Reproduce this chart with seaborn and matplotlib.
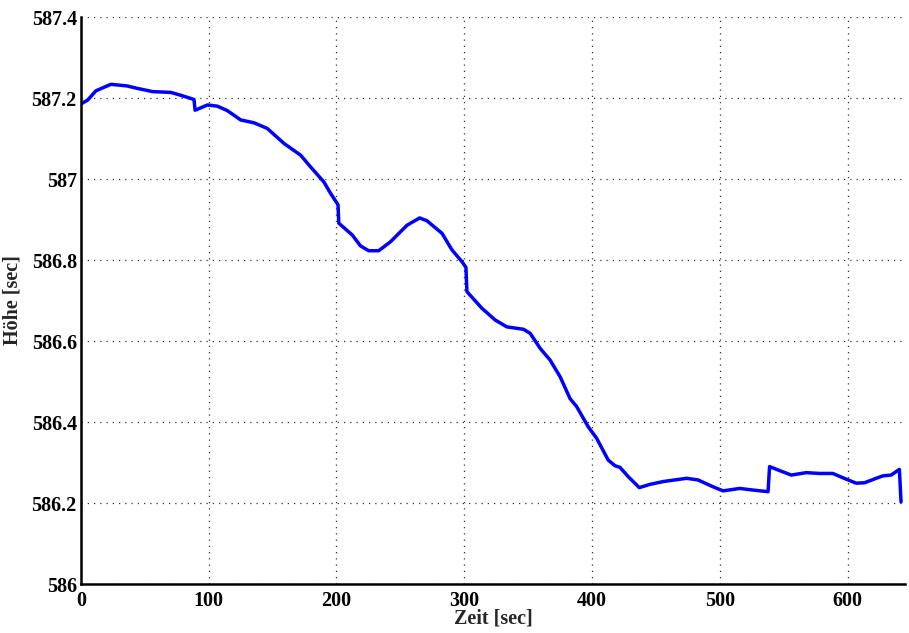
import matplotlib
matplotlib.use("Agg")
import matplotlib.pyplot as plt
import matplotlib.ticker as mticker
import seaborn as sns
import pandas as pd

# time [sec] and height values
zeit = [0, 1.3, 5.2, 11.7, 23.4, 36, 44, 56, 70.3, 78,
        87, 88.5, 89.3, 99, 106.8, 114.6, 125, 135.4, 145.8, 158.9,
        171.9, 179.7, 190.1, 195.3, 200.5, 201.2, 201.8, 212.3, 218.8, 225.2,
        233, 242.2, 255.2, 265.1, 270.8, 282.6, 290.4, 298.2, 301.3, 302.1,
        313.8, 324.2, 333.3, 346.4, 351.6, 359.4, 367.2, 375, 382.8, 388,
        397.1, 403.6, 412.7, 418, 421.9, 428.4, 437, 445.3, 455.7, 474,
        483, 494.8, 502.6, 515.6, 526, 537.8, 539, 546.9, 556, 567.7,
        578.1, 588.5, 598.9, 606.8, 613.3, 622.4, 627.6, 634.1, 640.6, 641.9]
hoehe = [587.185, 587.188, 587.195, 587.218, 587.234, 587.230, 587.224, 587.216, 587.214, 587.207,
         587.198, 587.196, 587.170, 587.183, 587.180, 587.169, 587.146, 587.139, 587.125, 587.088,
         587.059, 587.030, 586.993, 586.965, 586.940, 586.936, 586.891, 586.862, 586.835, 586.823,
         586.823, 586.845, 586.886, 586.904, 586.897, 586.866, 586.825, 586.796, 586.782, 586.722,
         586.681, 586.652, 586.635, 586.629, 586.619, 586.582, 586.553, 586.512, 586.458, 586.438,
         586.388, 586.360, 586.306, 586.292, 586.288, 586.265, 586.238, 586.246, 586.253, 586.261,
         586.257, 586.240, 586.230, 586.236, 586.232, 586.228, 586.290, 586.280, 586.269, 586.275,
         586.273, 586.273, 586.259, 586.249, 586.250, 586.261, 586.267, 586.269, 586.283, 586.203]

x_ticks = [0, 100, 200, 300, 400, 500, 600]
y_ticks = [586, 586.2, 586.4, 586.6, 586.8, 587, 587.2, 587.4]

sns.set_theme(style="white")
plt.rcParams['font.family'] = ['Liberation Serif', 'DejaVu Serif']
plt.rcParams['font.weight'] = 'bold'

df = pd.DataFrame({'Zeit': zeit, 'Hoehe': hoehe})

fig = plt.figure(figsize=(9.09, 6.33), dpi=100)
ax = fig.add_axes([0.0891, 0.0774, 0.9065, 0.8956])

sns.lineplot(data=df, x='Zeit', y='Hoehe', ax=ax, color='#0000ff', linewidth=2.5)

ax.set_xlim(0, 645)
ax.set_ylim(586, 587.4)
ax.set_xticks(x_ticks)
ax.set_yticks(y_ticks)
ax.yaxis.set_major_formatter(mticker.FuncFormatter(lambda v, p: f'{v:g}'))
ax.xaxis.set_major_formatter(mticker.FuncFormatter(lambda v, p: f'{v:g}'))

ax.grid(True, linestyle=(0, (1, 4)), color='#333333', linewidth=0.9)
for side in ['top', 'right']:
    ax.spines[side].set_visible(False)
for side in ['left', 'bottom']:
    ax.spines[side].set_linewidth(1.8)
    ax.spines[side].set_color('black')

ax.tick_params(axis='both', direction='in', length=5, width=1.8, colors='black',
               labelsize=14.5)
ax.tick_params(axis='x', pad=5)
ax.tick_params(axis='y', pad=3)
for lbl in ax.get_xticklabels() + ax.get_yticklabels():
    lbl.set_fontweight('bold')

ax.set_xlabel('Zeit [sec]', fontsize=14.5, fontweight='bold')
ax.set_ylabel('Höhe [sec]', fontsize=14.5, fontweight='bold')
ax.xaxis.set_label_coords(0.5, -0.044)
ax.yaxis.set_label_coords(-0.0704, 0.5)

fig.savefig('out.png', dpi=100)
